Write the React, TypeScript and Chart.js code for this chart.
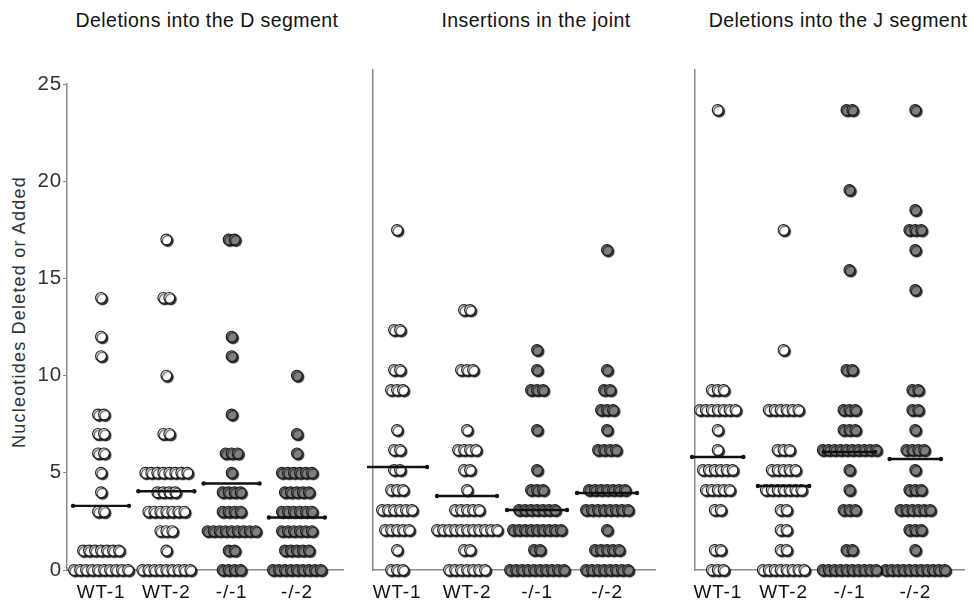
import React, { useEffect, useRef } from "react";
import { Chart, registerables } from "chart.js";

Chart.register(...registerables);

// ---------- data ----------
const groups = ["WT-1", "WT-2", "-/-1", "-/-2"];
const panelTitles = ["Deletions into the D segment", "Insertions in the joint", "Deletions into the J segment"];
const yAxisTitle = "Nucleotides Deleted or Added";
const yTicks = [0, 5, 10, 15, 20, 25];

// number of sequences at each nucleotide count (index = nucleotides 0,1,2,...)
const dSegWT1 = [10, 7, 0, 2, 1, 1, 2, 2, 2, 0, 0, 1, 1, 0, 1];
const dSegWT2 = [9, 1, 3, 7, 4, 8, 0, 2, 0, 0, 1, 0, 0, 0, 2, 0, 0, 1];
const dSegKO1 = [4, 2, 9, 4, 4, 1, 3, 0, 1, 0, 0, 1, 1, 0, 0, 0, 0, 2];
const dSegKO2 = [9, 5, 6, 6, 5, 6, 1, 1, 0, 0, 1];
const dSegMeans = [3.3, 4.05, 4.45, 2.7];

const insWT1 = [3, 1, 5, 6, 3, 2, 2, 1, 0, 3, 2, 0, 2, 0, 0, 0, 0, 1];
const insWT2 = [7, 2, 11, 5, 1, 2, 4, 1, 0, 0, 3, 0, 0, 2];
const insKO1 = [10, 2, 9, 7, 3, 1, 0, 1, 0, 3, 1, 1];
const insKO2 = [8, 5, 1, 8, 7, 0, 4, 1, 3, 2, 1, 0, 0, 0, 0, 0, 1];
const insMeans = [5.15, 3.7, 3.0, 3.85];

const jSegWT1 = [3, 2, 0, 2, 5, 6, 1, 1, 7, 3, 0, 0, 0, 0, 0, 0, 0, 0, 0, 0, 0, 0, 0, 1];
const jSegWT2 = [8, 2, 2, 2, 7, 5, 3, 0, 6, 0, 0, 1, 0, 0, 0, 0, 0, 1];
const jSegKO1 = [10, 2, 0, 3, 1, 1, 10, 3, 3, 0, 2, 0, 0, 0, 0, 1, 0, 0, 0, 1, 0, 0, 0, 2];
const jSegKO2 = [11, 1, 3, 6, 3, 1, 4, 1, 2, 2, 0, 0, 0, 0, 1, 0, 1, 3, 1, 0, 0, 0, 0, 1];
const jSegMeans = [5.65, 4.2, 5.9, 5.55];

// ---------- layout / style ----------
const FONT = "'Liberation Sans', Arial, Helvetica, sans-serif";
const H = 613;
const AXIS_COLOR = "#8a8a8a";
const WT_FILL = "#ffffff";
const KO_FILL = "#7f7f7f";

type PanelLayout = {
  left: number; width: number; areaLeft: number; areaRight: number; areaTop: number; areaBottom: number;
  firstGroupPx: number; pxPerGroup: number; meanHalfPx: number; showY: boolean; titleCenter: number;
};

const layouts: PanelLayout[] = [
  { left: 0, width: 360, areaLeft: 67, areaRight: 343, areaTop: 84, areaBottom: 570, firstGroupPx: 101, pxPerGroup: 65.3, meanHalfPx: 28, showY: true, titleCenter: 207 },
  { left: 360, width: 320, areaLeft: 373, areaRight: 655, areaTop: 70, areaBottom: 570, firstGroupPx: 397, pxPerGroup: 70, meanHalfPx: 30, showY: false, titleCenter: 536 },
  { left: 680, width: 291, areaLeft: 695, areaRight: 968, areaTop: 70, areaBottom: 570, firstGroupPx: 718, pxPerGroup: 66.7, meanHalfPx: 26, showY: false, titleCenter: 838 },
];

const panelData = [
  { counts: [dSegWT1, dSegWT2, dSegKO1, dSegKO2], means: dSegMeans },
  { counts: [insWT1, insWT2, insKO1, insKO2], means: insMeans },
  { counts: [jSegWT1, jSegWT2, jSegKO1, jSegKO2], means: jSegMeans },
];

const DOT_STEP_PX = 6;

const shadowPlugin = {
  id: "dotShadow",
  beforeDraw(chart: any) {
    try { chart.ctx.letterSpacing = "0.8px"; } catch (e) { /* ignore */ }
  },
  beforeDatasetDraw(chart: any, args: any) {
    const ds = chart.data.datasets[args.index];
    if (!ds.dotShadow) return;
    const ctx = chart.ctx;
    ctx.save();
    ctx.shadowColor = "rgba(0,0,0,0.8)";
    ctx.shadowOffsetX = 1.5;
    ctx.shadowOffsetY = 1.5;
    ctx.shadowBlur = 1;
  },
  afterDatasetDraw(chart: any, args: any) {
    const ds = chart.data.datasets[args.index];
    if (!ds.dotShadow) return;
    chart.ctx.restore();
  },
};

function buildPoints(counts: number[], gi: number, step: number) {
  const pts: { x: number; y: number }[] = [];
  counts.forEach((n, v) => {
    for (let j = 0; j < n; j++) pts.push({ x: gi + (j - (n - 1) / 2) * step, y: v });
  });
  return pts;
}

function Panel({ idx }: { idx: number }) {
  const ref = useRef<HTMLCanvasElement | null>(null);
  useEffect(() => {
    const L = layouts[idx];
    const D = panelData[idx];
    const xMin = -(L.firstGroupPx - L.areaLeft) / L.pxPerGroup;
    const xMax = xMin + (L.areaRight - L.areaLeft) / L.pxPerGroup;
    const step = DOT_STEP_PX / L.pxPerGroup;
    const hw = L.meanHalfPx / L.pxPerGroup;

    const datasets: any[] = [];
    D.means.forEach((m, gi) => {
      datasets.push({
        type: "line",
        data: [{ x: gi - hw, y: m }, { x: gi + hw, y: m }],
        borderColor: "#111",
        borderWidth: 2.4,
        pointRadius: 2.2,
        pointBackgroundColor: "#111",
        pointBorderWidth: 0,
        order: 0,
        clip: false,
      });
    });
    D.counts.forEach((c, gi) => {
      datasets.push({
        type: "scatter",
        data: buildPoints(c, gi, step),
        backgroundColor: gi < 2 ? WT_FILL : KO_FILL,
        borderColor: "#1a1a1a",
        borderWidth: 1.1,
        pointRadius: 5.4,
        order: 1,
        clip: false,
        dotShadow: true,
      });
    });

    const chart = new Chart(ref.current as HTMLCanvasElement, {
      type: "scatter",
      data: { datasets },
      options: {
        animation: false,
        responsive: false,
        events: [],
        layout: { padding: { top: L.areaTop, right: L.width - (L.areaRight - L.left), bottom: 0, left: 0 } },
        plugins: { legend: { display: false }, tooltip: { enabled: false }, title: { display: false } },
        scales: {
          x: {
            type: "linear",
            min: xMin,
            max: xMax,
            afterBuildTicks: (s: any) => { s.ticks = groups.map((_, i) => ({ value: i })); },
            afterFit: (s: any) => { s.height = H - L.areaBottom; },
            grid: { display: false, drawTicks: false },
            border: { display: true, color: AXIS_COLOR, width: 1.5 },
            ticks: {
              autoSkip: false,
              maxRotation: 0,
              padding: 11,
              color: "#111",
              font: { family: FONT, size: 19 },
              callback: (v: any) => groups[Math.round(Number(v))] ?? "",
            },
          },
          y: {
            type: "linear",
            min: 0,
            max: 25,
            afterBuildTicks: (s: any) => { s.ticks = yTicks.map((v) => ({ value: v })); },
            afterFit: (s: any) => { s.width = L.areaLeft - L.left; },
            grid: L.showY
              ? { display: true, drawOnChartArea: false, drawTicks: true, tickLength: 4, color: AXIS_COLOR }
              : { display: false, drawTicks: false },
            border: { display: true, color: AXIS_COLOR, width: 1.5 },
            ticks: { display: L.showY, padding: 1, color: "#333", font: { family: FONT, size: 20.5 } },
          },
        },
      } as any,
      plugins: [shadowPlugin as any],
    });
    return () => chart.destroy();
  }, [idx]);
  const L = layouts[idx];
  return (
    <canvas
      ref={ref}
      width={L.width}
      height={H}
      style={{ position: "absolute", left: L.left, top: 0, width: L.width, height: H, display: "block" }}
    />
  );
}

export default function App() {
  return (
    <div style={{ position: "absolute", left: 0, top: 0, width: 971, height: H, background: "#fff", overflow: "hidden" }}>
      {panelTitles.map((t, i) => (
        <div
          key={t}
          style={{
            position: "absolute",
            left: layouts[i].titleCenter - 170,
            width: 340,
            top: 9,
            textAlign: "center",
            fontFamily: FONT,
            fontSize: 19.5,
            letterSpacing: "0.45px",
            lineHeight: "22px",
            color: "#111",
            whiteSpace: "nowrap",
          }}
        >
          {t}
        </div>
      ))}
      <div
        style={{
          position: "absolute",
          left: 19 - 160,
          top: 312 - 11,
          width: 320,
          height: 22,
          lineHeight: "22px",
          textAlign: "center",
          transform: "rotate(-90deg)",
          fontFamily: FONT,
          fontSize: 18,
          letterSpacing: "1.2px",
          color: "#333",
          whiteSpace: "nowrap",
        }}
      >
        {yAxisTitle}
      </div>
      {layouts.map((_, i) => (
        <Panel key={i} idx={i} />
      ))}
    </div>
  );
}
